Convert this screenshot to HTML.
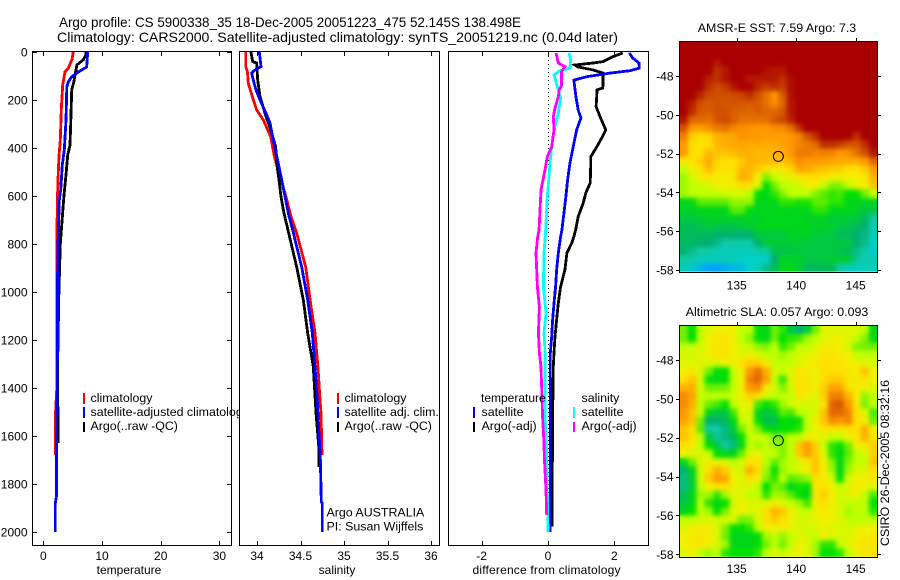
<!DOCTYPE html>
<html lang="en">
<head>
<meta charset="utf-8">
<title>Argo profile CS 5900338_35</title>
<style>
html,body{margin:0;padding:0;background:#fff;}
svg{display:block;}
text{font-family:"Liberation Sans",Arial,sans-serif;fill:#000;font-size:12px;}
.lg{font-size:12.4px;}
.ttl{font-size:14px;}
.mt{font-size:12.4px;text-anchor:middle;}
.xl{font-size:12px;text-anchor:middle;}
</style>
</head>
<body>
<svg id="figure" width="900" height="580" viewBox="0 0 900 580" xmlns="http://www.w3.org/2000/svg">
  <defs>
    <filter id="soften" filterUnits="userSpaceOnUse" x="670" y="30" width="220" height="540" color-interpolation-filters="sRGB">
      <feGaussianBlur in="SourceGraphic" stdDeviation="2.3" result="b"/>
      <feMerge><feMergeNode in="SourceGraphic"/><feMergeNode in="b"/></feMerge>
    </filter>
    <clipPath id="sst-clip"><rect x="680" y="42" width="197" height="229.6"/></clipPath>
    <clipPath id="sla-clip"><rect x="680" y="326" width="197" height="230.8"/></clipPath>
  </defs>
  <rect x="0" y="0" width="900" height="580" fill="#fff"/>
  <text class="ttl" x="59" y="27" textLength="462" lengthAdjust="spacingAndGlyphs">Argo profile: CS 5900338_35 18-Dec-2005 20051223_475 52.145S 138.498E</text>
  <text class="ttl" x="57" y="42" textLength="561" lengthAdjust="spacingAndGlyphs">Climatology: CARS2000. Satellite-adjusted climatology: synTS_20051219.nc (0.04d later)</text>

  <g id="panel-temp">
    <rect x="32.5" y="51.5" width="199" height="494" fill="#fff" stroke="none"/>
    <g id="temp-marks"></g>
    <rect x="32.5" y="51.5" width="199" height="494" fill="none" stroke="#000" shape-rendering="crispEdges"/>
    <g id="temp-ticks"></g>
    <text class="xl" x="129" y="574">temperature</text>
    <g>
      <rect x="83" y="393" width="2" height="11" fill="#f00"/>
      <rect x="83" y="407" width="2" height="11" fill="#00f"/>
      <rect x="83" y="422" width="2" height="10" fill="#000"/>
      <text class="lg" x="90.5" y="402">climatology</text>
      <text class="lg" x="90.5" y="416">satellite-adjusted climatology</text>
      <text class="lg" x="90.5" y="430">Argo(..raw -QC)</text>
    </g>
  </g>

  <g id="panel-sal">
    <rect x="239.5" y="51.5" width="200" height="494" fill="#fff" stroke="none"/>
    <g id="sal-marks"></g>
    <rect x="239.5" y="51.5" width="200" height="494" fill="none" stroke="#000" shape-rendering="crispEdges"/>
    <g id="sal-ticks"></g>
    <text class="xl" x="337" y="574">salinity</text>
    <g>
      <rect x="337" y="393" width="2" height="11" fill="#f00"/>
      <rect x="337" y="407" width="2" height="11" fill="#00f"/>
      <rect x="337" y="422" width="2" height="10" fill="#000"/>
      <text class="lg" x="344.5" y="402">climatology</text>
      <text class="lg" x="344.5" y="416">satellite adj. clim.</text>
      <text class="lg" x="344.5" y="430">Argo(..raw -QC)</text>
      <text class="lg" x="326.5" y="516.5">Argo AUSTRALIA</text>
      <text class="lg" x="326.5" y="530.5">PI: Susan Wijffels</text>
    </g>
  </g>

  <g id="panel-diff">
    <rect x="448.5" y="51.5" width="200" height="494" fill="#fff" stroke="none"/>
    <line id="zero-line" x1="548.5" x2="548.5" y1="52" y2="532" stroke="#000" stroke-width="1" stroke-dasharray="1 3" shape-rendering="crispEdges"/>
    <g id="diff-marks"></g>
    <rect x="448.5" y="51.5" width="200" height="494" fill="none" stroke="#000" shape-rendering="crispEdges"/>
    <g id="diff-ticks"></g>
    <text class="xl" x="546.5" y="574" textLength="148" lengthAdjust="spacing">difference from climatology</text>
    <g>
      <text x="481" y="402">temperature</text>
      <text class="lg" x="581.5" y="402">salinity</text>
      <rect x="473" y="407" width="2" height="11" fill="#00f"/>
      <rect x="473" y="422" width="2" height="10" fill="#000"/>
      <rect x="573" y="407" width="2" height="11" fill="#0ff"/>
      <rect x="573" y="422" width="2" height="10" fill="#f0f"/>
      <text class="lg" x="481.5" y="416">satellite</text>
      <text class="lg" x="481.5" y="430">Argo(-adj)</text>
      <text class="lg" x="581.5" y="416">satellite</text>
      <text class="lg" x="581.5" y="430">Argo(-adj)</text>
    </g>
  </g>

  <g id="panel-sst">
    <text class="mt" x="777" y="32">AMSR-E SST: 7.59 Argo: 7.3</text>
    <g clip-path="url(#sst-clip)">
      <g id="sst-cells" filter="url(#soften)"></g>
    </g>
    <rect x="679.5" y="41.5" width="198" height="231" fill="none" stroke="#000" shape-rendering="crispEdges"/>
    <g id="sst-ticks"></g>
    <circle id="sst-marker" r="5" fill="none" stroke="#000" stroke-width="1"/>
  </g>

  <g id="panel-sla">
    <text class="mt" x="777" y="316">Altimetric SLA: 0.057 Argo: 0.093</text>
    <g clip-path="url(#sla-clip)">
      <g id="sla-cells" filter="url(#soften)"></g>
    </g>
    <rect x="679.5" y="325.5" width="198" height="232" fill="none" stroke="#000" shape-rendering="crispEdges"/>
    <g id="sla-ticks"></g>
    <circle id="sla-marker" r="5" fill="none" stroke="#000" stroke-width="1"/>
  </g>

  <text class="lg" transform="translate(889,463) rotate(-90)" text-anchor="middle">CSIRO 26-Dec-2005 08:32:16</text>
</svg>

<script>
/* ---------- profile tick labels ---------- */
const depthTicks = [0,200,400,600,800,1000,1200,1400,1600,1800,2000];
const tempTicks = [0,10,20,30];
const salTicks = [34,34.5,35,35.5,36];
const diffTicks = [-2,0,2];
const lonTicks = [135,140,145];
const latTicks = [-48,-50,-52,-54,-56,-58];

/* ---------- temperature profiles ---------- */
const tempClimDepth = [0,30,70,83,137,240,367,430,533,617,800,1000,1200,1400,1500,1680];
const tempClimValue = [5.1,4.9,4.2,3.7,3.3,3.07,2.9,2.67,2.5,2.4,2.3,2.3,2.3,2.3,2.1,2.1];
const tempSatDepth = [0,62,83,104,125,146,283,408,470,575,617,800,1000,1200,1400,1600,1850,1880,2000];
const tempSatValue = [7.56,7.4,6,4.8,4.26,4,3.87,3.58,3.24,2.96,2.73,2.5,2.4,2.4,2.38,2.25,2.25,2.05,2.05];
const tempArgoDepth = [0,12,33,54,75,96,125,158,262,388,430,512,596,800,1000,1200,1400,1550,1630];
const tempArgoValue = [7.27,7.27,6.8,5.7,5.57,5.4,5.2,4.84,4.72,4.55,4.15,3.87,3.53,2.9,2.65,2.5,2.4,2.55,2.55];

/* ---------- salinity profiles ---------- */
const salClimDepth = [0,61,82,130,186,242,283,353,436,603,686,755,896,1033,1171,1312,1367,1450,1504,1680];
const salClimValue = [33.87,33.87,33.89,33.90,33.946,33.997,34.072,34.157,34.20,34.333,34.39,34.456,34.56,34.61,34.667,34.70,34.71,34.724,34.736,34.747];
const salSatDepth = [0,61,75,88,117,158,200,255,296,367,464,533,603,672,742,896,1033,1171,1312,1450,1504,1688,1875,1880,2000];
const salSatValue = [34.026,34.046,33.977,33.939,33.957,33.989,34.034,34.103,34.149,34.187,34.245,34.284,34.322,34.36,34.41,34.514,34.583,34.636,34.667,34.693,34.70,34.728,34.739,34.75,34.75];
const salArgoDepth = [0,40,46,117,186,255,325,395,464,533,603,672,742,896,1033,1171,1312,1504,1646,1729];
const salArgoValue = [33.93,33.95,33.997,34.008,34.034,34.092,34.157,34.215,34.226,34.253,34.276,34.31,34.356,34.456,34.532,34.583,34.647,34.678,34.71,34.71];

/* ---------- difference profiles ---------- */
const diffTempArgoDepth = [4,19,40,46,54,62,75,88,117,150,158,228,270,325,358,395,436,464,546,587,630,686,742,770,797,838,908,978,1047,1117,1186,1254,1312,1533,1978];
const diffTempArgoValue = [2.25,1.96,1.66,1.36,0.81,0.90,1.36,1.66,1.66,1.65,1.48,1.45,1.57,1.74,1.62,1.47,1.29,1.29,1.27,1.14,1.06,0.91,0.83,0.78,0.71,0.57,0.51,0.38,0.31,0.26,0.21,0.18,0.16,0.14,0.12];
const diffTempSatDepth = [4,25,46,67,78,88,103,117,186,242,275,325,395,464,533,603,672,742,770,838,908,978,1047,1117,1186,1254,2000];
const diffTempSatValue = [2.45,2.55,2.74,2.75,2.47,1.87,1.17,0.78,0.84,0.91,0.99,0.86,0.76,0.66,0.59,0.54,0.48,0.42,0.38,0.31,0.26,0.23,0.18,0.14,0.11,0.07,0.07];
const diffSalSatDepth = [4,33,67,78,96,117,144,192,255,325,395,464,533,603,742,838,978,1088,1171,1254,1533,1688,2000];
const diffSalSatValue = [0.63,0.68,0.66,0.36,0.18,0.23,0.28,0.38,0.31,0.18,0.11,0.06,0.02,-0.02,-0.07,-0.12,-0.14,-0.06,-0.12,-0.09,-0.08,-0.04,0];
const diffSalArgoDepth = [4,46,61,82,138,158,186,233,270,325,395,436,492,575,742,770,838,978,1063,1171,1254,1312,1533,1630,1688,1825,1929];
const diffSalArgoValue = [0.24,0.31,0.51,0.41,0.41,0.34,0.31,0.21,0.16,0.18,0.11,-0.02,-0.09,-0.21,-0.27,-0.31,-0.36,-0.32,-0.26,-0.29,-0.26,-0.21,-0.16,-0.12,-0.11,-0.06,-0.04];

/* ---------- map values on colour-index scale ---------- */
const sstGrid = [
[10,10,10,10,10,10,10,10,10,10,10,10,10,10,10,10,10,10,10,10,10,10,10,10],
[10,10,10,10,10,10,10,10,10,10,10,10,10,10,10,10,10,10,10,10,10,10,10,10],
[10,10,10,10,9.5,10,10,10,10,10,10,10,10,10,10,10,10,10,10,10,10,10,10,10],
[10,10,10,10,9,9.5,10,10,10,10,9.7,9.5,9.5,10,10,10,10,10,10,10,10,10,10,10],
[10,10,10,9.3,9,9.5,10,10,9.5,9.5,9.5,9.5,9,9.7,10,10,10,10,10,10,10,10,10,10],
[10,10,10,9,8.6,8.8,9.5,10,10,9.2,8.8,9,8.8,9.7,10,10,10,10,10,10,10,10,10,10],
[10,10,9.2,8.6,8.5,8.5,8.6,8.7,9,8.5,7.8,7,8.2,9.7,10,10,10,10,10,10,10,10,10,10],
[10,9.3,8.5,8.3,8.5,8.4,8.4,8.4,8.3,8.3,7.8,7.2,8,9.5,10,10,10,10,10,10,10,10,10,10],
[10,9,8.3,8.2,8.5,8.5,8.2,8.1,8,8.2,8.1,8,8.3,9.5,10,10,10,10,10,10,10,10,10,10],
[9.5,8,8,7.8,8.4,8.6,8.2,7.8,7.8,7.8,7.8,8.4,8.6,9.3,10,10,10,10,10,10,10,10,10,10],
[8.5,7,6.9,7.2,7.6,7.8,7.4,7.2,7.1,7,7,7.2,7.2,7.8,9,10,10,10,10,10,10,10,10,10],
[7.5,6.2,6,6.1,6.5,6.6,6.7,7.1,7,7,6.9,6.9,6.9,7,7.4,8.4,9,10,10,10,10,9,10,10],
[7,6,5.9,6,6.4,6.6,6.6,6.7,6.6,6.7,6.6,6.6,6.8,7,7.4,7.6,8,9,9,8.8,8.4,8.4,9,10],
[7,6,6,6.4,6.3,6.3,6.4,6.5,6.5,6.4,6.4,6.5,6.6,7,7.6,7.6,7.4,7.5,7.4,7,7.2,7.8,8.5,9.5],
[5.7,6,6.2,6.6,6.1,6,6,6.2,6.5,6.4,6.4,6.4,6.3,6.5,7.2,7,7,6.9,6.8,6.7,6.6,6.6,7,8],
[5,5.6,6,6.4,6,5.9,6,6.4,6.4,6.2,6,5.8,5.8,6.1,6.8,6.6,6.4,6.3,6.2,6.2,6,6,6.2,7],
[4.8,5.2,5.5,5.8,5.7,5.6,5.8,6.6,6.4,5.5,4.6,5,5.3,5.4,5.8,6,6,5.9,5.6,5.6,5.5,5.5,5.8,6.5],
[4.8,5,5.1,5.2,5.5,5.5,5.6,6,6,5.3,4,4.5,5,5,5.1,5.5,5.5,5,4.6,4.6,5,5.5,5.5,6.3],
[4.8,5,5,5,5,5.2,5.2,5.2,5,4,3.8,4.2,4.6,5,5,5,4.6,4.4,4.2,4.3,4,4,4.5,5],
[3.8,3.8,4.4,4.4,4.4,4.4,4.7,4.7,4.7,3.8,3.8,3.8,4.2,4.2,4.1,4.1,4.4,4.4,4.2,4.2,3.8,3.8,3.8,3.8],
[3.7,3.7,3.8,3.8,3.8,3.8,4.4,4.4,3.9,3.8,3.8,3.8,3.8,3.8,3.8,3.8,4.2,4.2,3.8,3.8,3.8,3.7,3.5,3.5],
[3.5,3.5,3.6,3.7,3.7,3.7,3.7,3.7,3.7,3.7,3.8,3.8,3.8,3.8,3.8,3.7,3.7,3.7,3.6,3.6,3.6,3.5,3.2,2.5],
[3.3,3.3,3.4,3.5,3.4,3.4,3.4,3.5,3.6,3.7,3.8,3.8,3.8,3.8,3.8,3.8,3.7,3.7,3.6,3.5,3.4,3.2,3,2.3],
[3.2,3.2,3.2,3.2,3,3,3,3,3,3.5,3.5,3.5,3.5,3.7,3.7,3.7,3.6,3.5,3.5,3.2,3.2,3,2.8,2.2],
[3.2,3.1,3,3,2.8,2.4,2.4,2.4,2.4,3,3.6,3.6,3.6,3.6,3.6,3.5,3.5,3.5,3.5,3.5,3.5,3,2.8,2],
[3,2.7,2.5,2.4,2.2,2.2,2.2,2.2,2.2,2.4,2.4,3.4,3.4,3.4,3.5,3.5,3.5,3.5,3.5,3.4,3.2,2.8,2.4,1.9],
[2.5,2.4,2.2,2.2,2.2,2.2,2.2,2,2,2,2,3,3.7,3.7,3.7,3.5,3.5,3.5,3.6,3.6,3.6,2.6,2.3,2.3],
[2.2,1.8,1.4,1.1,1,1.3,1.5,1.6,2,2.2,2.7,3.3,3.8,3.8,3.6,3.2,3.2,3.2,3.2,2.5,2.2,2.2,2.2,2.2]
];
const slaGrid = [
[4.5,4,5,5.3,5.5,5.5,5.5,5,5,4,3.8,4.5,4.2,3.5,3,3.5,4.5,5.3,5.3,5.3,5.3,5.3,5,3.8],
[4.5,4,5,5.5,5.7,5.8,5.5,5,4.7,4,3.8,4.5,4,4.2,4.3,4.8,5,5.3,5.5,5.5,5.3,5,4.6,3.8],
[5,5,5.2,5.5,5.8,5.8,5.5,5.2,5,4.7,4.6,5,4.2,4.5,5,5,5.3,5.7,5.7,5.5,5.2,4.6,4.5,4.5],
[5.2,5.2,5.3,5.5,5.8,5.8,5.5,5.3,5.5,5.3,5,5,4.8,5,5.2,5.3,5.5,5.8,5.8,5.7,5.5,5,5,5],
[5.3,5.3,5.3,5.3,5.2,5.5,5.5,6,6.2,6.2,5.8,5,5,5,5.3,5.5,5.7,6,6,5.8,5.7,5.5,5.3,5.2],
[5.5,5.8,5.3,4.5,4,4,5,5.5,7,7.8,6.5,5.3,5,5.3,5.8,5.7,5.5,6,6,6,5.8,5.7,6.3,5.5],
[6,6.3,5.2,4,3.8,4,5,5.5,7.5,8,6.8,5,4.2,5.3,5.8,5.8,5.5,6,6.2,6.2,5.8,5.7,5.8,5.5],
[6.5,6.5,5.2,4.5,4.5,4.5,5,5.6,7,7.2,5.8,5.2,4.6,5.2,6,5.8,5.5,6.2,6.8,6.8,6,5.7,5.5,5.3],
[7.3,6.8,5,5,5,5,5.2,5.5,6.2,6,5.2,5,5,5,5.8,5.6,5.3,6.2,7.5,7.5,6.5,5.5,4.7,5],
[7.3,6.5,5,4.5,4.3,4,5,5.3,5.5,4.3,4,4.2,4.8,5.2,5.2,5.2,5.2,6,8,8.3,7,5.8,4.6,5],
[7,6.3,5,3.8,3.5,3.5,4.3,5.3,5.3,3.7,3.5,3.7,4.4,4.3,5,5,5.3,6.3,8,8,7.5,6,5.3,4.3],
[6.8,6.3,4.5,3,3,3.2,3.8,5,5.2,4,3.3,3.3,4,3.8,4,5,5.5,6.3,7.3,7,7.3,6,5.7,4.5],
[6.3,6,4.4,2.5,2.3,2.8,3.6,4.5,5.2,4.6,4,3.8,4,4,4.2,5,5.5,5.8,6,5.8,6,6,6.5,5.5],
[6.3,6,5,3.5,2.6,2.8,3.2,4,5,5.2,5,4.5,4.6,5,5,5.5,5.5,5.3,5,5,5.5,5.8,6.5,5.8],
[6,5.7,5,4,3.5,2.5,2.8,3.8,5,4.8,5,4.8,4.6,5,6.3,7,6.2,5,4.2,4,4.5,5.5,5.7,6.2],
[5.5,5.3,5.3,5,4,3.8,3.8,4.5,5.3,5.5,5,5,4.6,5,6.2,6.8,6.2,5.3,4.2,3.8,4.4,5,5.2,6.2],
[3.8,4.5,5.3,5.5,5.3,5.3,5,5.2,6,5.8,5,4.4,4.8,5,5.3,5.8,6.3,5.6,4.6,3.8,4.6,5,5,6.3],
[3,3.8,5.2,6,6.5,6.2,5.3,5.2,6.5,6,4.8,4,4.8,5,5.2,5.5,6.3,5.5,4.8,3.8,4.8,5.2,5.3,6],
[2.8,3.6,5.2,6.2,7,6.8,5.5,5.3,6,5.6,4.6,4.2,5,4.4,4.5,4.7,6,5.7,5.2,4,5.2,5.5,5.5,5.8],
[2.8,3.6,5,5.5,5.8,6,5.5,5.3,5.3,5,4,4.6,4.4,3.8,4.1,4,5.8,6,5.5,5,5.3,5.6,5.5,5.3],
[3.3,3.8,4.8,4.8,4.2,4.8,5.3,5.3,5,5,4.2,4.8,4.8,4.4,4,3.8,5.8,6.2,5.5,5.2,5.3,5.5,5,4.3],
[3.5,3.8,5,4.2,3.8,4,5.2,5.5,5.3,5.3,5.3,5.6,5.3,5,4.8,4.3,5.6,6,5.5,5.2,5,5,5,4],
[3.8,4,5,4.8,4,4.6,5.3,5.5,5.3,5.3,6,6.5,6.3,5.5,5.2,5,5.5,5.7,5.5,5.2,4.8,5,5,4.2],
[5,5,5.2,5.3,5.2,5.2,5.2,4.5,4.6,5.2,6,6.2,6,5.5,5.2,5.2,5.4,5.5,5.5,5.3,5,5,5,5],
[5.3,5.5,5.7,5.5,5.3,4.6,4,4,4.2,5,5.5,5.5,5.5,5.4,5.3,5.2,5.2,5.6,5.3,5.3,5.2,5.3,5.5,5.5],
[5.5,5.7,5.8,5.6,5.3,4.5,3.8,3.8,3.8,3.9,4.8,5,4.7,5,5.3,5.2,5,5.5,5.2,5.2,5.3,5.5,5.7,5.8],
[5.5,5.7,5.8,5.6,5.3,4.8,3.8,3.8,3.8,4,4.5,5,4.5,5,5.5,5.3,4.8,4.2,4.2,5,5.3,5.7,5.8,5.8],
[5.3,5.5,5,4.8,5,4.2,4,4,4,4.2,5,5.3,5,5.3,5.5,5.3,4.8,4,4,4.2,5,5.5,5.8,6]
];
const floatLon = 138.498;
const floatLat = -52.145;

/* ---------- axis functions ---------- */
function depthY(d){ return 52 + d * 0.24; }
function tempX(t){ return 43.3 + t * 5.87; }
function salX(s){ return 257 + (s - 34) * 87; }
function diffX(v){ return 548 + v * 33.2; }
function lonX(l){ return 736.7 + (l - 135) * 11.9; }
function sstLatY(l){ return 270 + (l + 58) * -19.4; }
function slaLatY(l){ return 554.3 + (l + 58) * -19.43; }

/* ---------- colour scale ---------- */
function hexRgb(h){ return [parseInt(h.slice(1,3),16),parseInt(h.slice(3,5),16),parseInt(h.slice(5,7),16)]; }
const rampIndex = [1,2,2.5,3,3.5,4,4.5,5,5.5,6,6.5,7,8,8.5,9,10];
const rampColour = ['#00a0ff','#00d0c8','#10c8a0','#00b070','#00c840','#00e000','#70f000','#c0ff00','#f0f000','#ffe000','#ffb000','#ff9800','#e06800','#d05000','#c03000','#a80000'];
function colour(v){
  if (v <= rampIndex[0]) return rampColour[0];
  for (let i = 1; i < rampIndex.length; i++) {
    if (v <= rampIndex[i]) {
      const f = (v - rampIndex[i-1]) / (rampIndex[i] - rampIndex[i-1]);
      const a = hexRgb(rampColour[i-1]), b = hexRgb(rampColour[i]);
      return 'rgb(' + a.map((c,k) => Math.round(c + (b[k]-c)*f)).join(',') + ')';
    }
  }
  return rampColour[rampColour.length-1];
}

/* ---------- drawing helpers ---------- */
const NS = 'http://www.w3.org/2000/svg';
function make(parent, tag, attrs){
  const e = document.createElementNS(NS, tag);
  Object.keys(attrs).forEach(k => e.setAttribute(k, attrs[k]));
  parent.appendChild(e);
  return e;
}
function byId(id){ return document.getElementById(id); }

function profile(groupId, depths, values, xFn, stroke, name){
  const pts = depths.map((d,i) => xFn(values[i]).toFixed(1) + ',' + depthY(d).toFixed(1)).join(' ');
  const el = make(byId(groupId), 'polyline', {points: pts, fill: 'none', stroke: stroke, 'stroke-width': 2.8, 'stroke-linejoin': 'miter', 'shape-rendering': 'crispEdges'});
  
  
}
function tickMark(g, x1, y1, x2, y2){
  const el = make(g, 'line', {x1: x1, y1: y1, x2: x2, y2: y2, stroke: '#000', 'stroke-width': 1, 'shape-rendering': 'crispEdges'});
  
  
}
function tickLabel(g, x, y, anchor, value){
  const el = make(g, 'text', {x: x, y: y, 'text-anchor': anchor});
  el.textContent = String(value);
  
  
}
function xAxis(groupId, ticks, xFn){
  const g = byId(groupId);
  ticks.forEach(t => {
    const x = Math.round(xFn(t)) + 0.5;
    tickMark(g, x, 52, x, 56);
    tickMark(g, x, 541, x, 545);
    tickLabel(g, xFn(t), 560, 'middle', t);
  });
}
function depthAxis(groupId){
  const g = byId(groupId);
  depthTicks.forEach(d => {
    const y = Math.round(depthY(d)) + 0.5;
    tickMark(g, 33, y, 37, y);
    tickMark(g, 227, y, 231, y);
    tickLabel(g, 27.5, depthY(d) + 4.5, 'end', d);
  });
}
function heatmap(groupId, grid, top, bottom, name){
  const g = byId(groupId);
  const left = 680, right = 877;
  const rows = grid.length, cols = grid[0].length;
  const w = (right - left) / cols, h = (bottom - top) / rows;
  grid.forEach((row, r) => {
    row.forEach((v, c) => {
      const cell = make(g, 'rect', {x: (left + c*w).toFixed(2), y: (top + r*h).toFixed(2), width: (w + 0.4).toFixed(2), height: (h + 0.4).toFixed(2), fill: colour(v), 'shape-rendering': 'crispEdges'});
      
      
    });
  });
}
function mapAxes(groupId, latFn, top, labelY){
  const g = byId(groupId);
  lonTicks.forEach(l => {
    const x = Math.round(lonX(l)) + 0.5;
    tickMark(g, x, top - 3, x, top);
    tickLabel(g, lonX(l), labelY, 'middle', l);
  });
  latTicks.forEach(l => {
    const y = Math.round(latFn(l)) + 0.5;
    tickMark(g, 676, y, 679, y);
    tickMark(g, 878, y, 881, y);
    tickLabel(g, 673.5, latFn(l) + 4.5, 'end', l);
  });
}

/* ---------- draw ---------- */
profile('temp-marks', tempClimDepth, tempClimValue, tempX, '#f00', 'temperature-climatology-line');
profile('temp-marks', tempArgoDepth, tempArgoValue, tempX, '#000', 'temperature-argo-line');
profile('temp-marks', tempSatDepth, tempSatValue, tempX, '#00f', 'temperature-satellite-line');
depthAxis('temp-ticks');
xAxis('temp-ticks', tempTicks, tempX);

profile('sal-marks', salClimDepth, salClimValue, salX, '#f00', 'salinity-climatology-line');
profile('sal-marks', salArgoDepth, salArgoValue, salX, '#000', 'salinity-argo-line');
profile('sal-marks', salSatDepth, salSatValue, salX, '#00f', 'salinity-satellite-line');
xAxis('sal-ticks', salTicks, salX);

profile('diff-marks', diffTempArgoDepth, diffTempArgoValue, diffX, '#000', 'difference-temp-argo-line');
profile('diff-marks', diffTempSatDepth, diffTempSatValue, diffX, '#00f', 'difference-temp-satellite-line');
profile('diff-marks', diffSalSatDepth, diffSalSatValue, diffX, '#0ff', 'difference-sal-satellite-line');
profile('diff-marks', diffSalArgoDepth, diffSalArgoValue, diffX, '#f0f', 'difference-sal-argo-line');
xAxis('diff-ticks', diffTicks, diffX);

heatmap('sst-cells', sstGrid, 42, 271.6, 'sst-cell');
mapAxes('sst-ticks', sstLatY, 41, 289.5);
heatmap('sla-cells', slaGrid, 326, 556.8, 'sla-cell');
mapAxes('sla-ticks', slaLatY, 325, 573);

byId('sst-marker').setAttribute('cx', lonX(floatLon));
byId('sst-marker').setAttribute('cy', sstLatY(floatLat));
byId('sla-marker').setAttribute('cx', lonX(floatLon));
byId('sla-marker').setAttribute('cy', slaLatY(floatLat));
</script>
</body>
</html>
